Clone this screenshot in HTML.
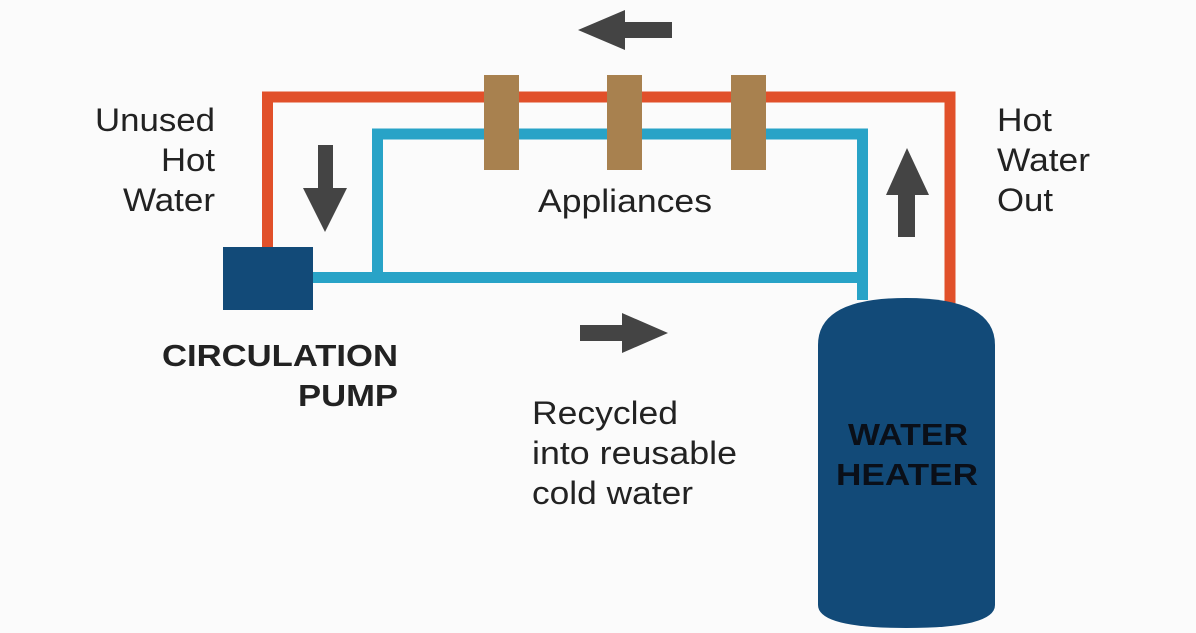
<!DOCTYPE html>
<html><head><style>
body{margin:0;width:1196px;height:628px;overflow:hidden;background:#fbfbfb}
</style></head><body>
<svg width="1196" height="628" viewBox="0 0 1196 628" xmlns="http://www.w3.org/2000/svg" font-family="Liberation Sans, sans-serif">
<rect width="1196" height="628" fill="#fbfbfb"/>
<path d="M267.5 250 V97 H950 V306" fill="none" stroke="#e1502a" stroke-width="11"/>
<path d="M377.5 278 V134 H862.5 V300" fill="none" stroke="#28a3c7" stroke-width="11"/>
<path d="M312 277.5 H868" fill="none" stroke="#28a3c7" stroke-width="11"/>
<rect x="223" y="247" width="90" height="63" fill="#124a78"/>
<rect x="484" y="75" width="35" height="95" fill="#a8814f"/>
<rect x="607" y="75" width="35" height="95" fill="#a8814f"/>
<rect x="731" y="75" width="35" height="95" fill="#a8814f"/>
<polygon points="578,30 625,10 625,22 672,22 672,38 625,38 625,50" fill="#444"/>
<polygon points="318,145 333,145 333,188 347,188 325,232 303,188 318,188" fill="#444"/>
<polygon points="907,148 929,195 915,195 915,237 898,237 898,195 886,195" fill="#444"/>
<polygon points="668,333 622,313 622,325 580,325 580,341 622,341 622,353" fill="#444"/>
<path d="M818 345 Q818 298 906 298 Q995 298 995 345 V605 Q995 628 906 628 Q818 628 818 605 Z" fill="#124a78"/>
<g font-size="32" fill="#222" lengthAdjust="spacingAndGlyphs">
<text x="95" y="131" textLength="120" lengthAdjust="spacingAndGlyphs">Unused</text>
<text x="161" y="171" textLength="54" lengthAdjust="spacingAndGlyphs">Hot</text>
<text x="123" y="211" textLength="92" lengthAdjust="spacingAndGlyphs">Water</text>
<text x="997" y="131" textLength="55" lengthAdjust="spacingAndGlyphs">Hot</text>
<text x="997" y="171" textLength="93" lengthAdjust="spacingAndGlyphs">Water</text>
<text x="997" y="211" textLength="56" lengthAdjust="spacingAndGlyphs">Out</text>
<text x="538" y="212" textLength="174" lengthAdjust="spacingAndGlyphs">Appliances</text>
<text x="532" y="424" textLength="146" lengthAdjust="spacingAndGlyphs">Recycled</text>
<text x="532" y="464" textLength="205" lengthAdjust="spacingAndGlyphs">into reusable</text>
<text x="532" y="504" textLength="161" lengthAdjust="spacingAndGlyphs">cold water</text>
</g>
<g font-size="31" font-weight="bold" fill="#222">
<text x="162" y="366" textLength="236" lengthAdjust="spacingAndGlyphs">CIRCULATION</text>
<text x="298" y="406" textLength="100" lengthAdjust="spacingAndGlyphs">PUMP</text>
</g>
<g font-size="31" font-weight="bold" fill="#0a0f18">
<text x="848" y="445" textLength="120" lengthAdjust="spacingAndGlyphs">WATER</text>
<text x="836" y="485" textLength="142" lengthAdjust="spacingAndGlyphs">HEATER</text>
</g>
</svg>
</body></html>
